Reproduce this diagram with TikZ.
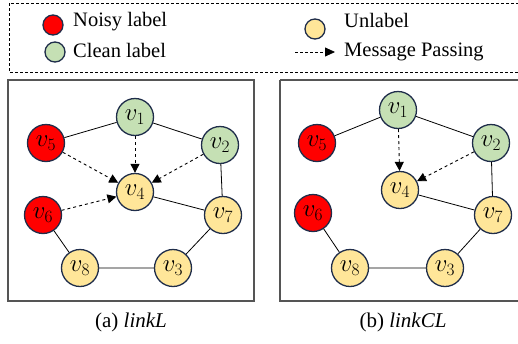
\documentclass[tikz,border=0pt]{standalone}
\usepackage{fontspec}
\setmainfont{Liberation Serif}
\usetikzlibrary{arrows.meta}
\definecolor{nred}{HTML}{FF0000}
\definecolor{ngreen}{HTML}{C5E0B4}
\definecolor{nyellow}{HTML}{FFE699}
\definecolor{nborder}{HTML}{1F2D4A}
\definecolor{boxgray}{HTML}{555555}
\begin{document}
\begin{tikzpicture}[x=1pt,y=-1pt,
  vnode/.style={circle,draw=nborder,line width=1.3pt,minimum size=37pt,inner sep=0pt,font=\fontsize{23}{25}\selectfont},
  noisy/.style={vnode,fill=nred},
  clean/.style={vnode,fill=ngreen},
  unl/.style={vnode,fill=nyellow},
  lnode/.style={circle,draw=nborder,line width=1.3pt,minimum size=20pt,inner sep=0pt},
  lnk/.style={draw=black,line width=0.8pt},
  msg/.style={draw=black,line width=0.9pt,dashed,-{Triangle[length=9pt,width=9pt]}},
  lbl/.style={font=\fontsize{20.5}{22}\selectfont,anchor=west,inner sep=0pt},
  captxt/.style={font=\fontsize{21}{24}\selectfont,inner sep=0pt},
  panel/.style={draw=boxgray,line width=1.2pt}]
\useasboundingbox (0,0) rectangle (518,343);
% legend
\draw[line width=0.8pt,dash pattern=on 3pt off 2pt] (9,3) rectangle (530,72);
\node[lnode,fill=nred] (ln) at (53,25) {};
\node[lbl] (lnt) at (73,22) {Noisy label};
\node[lnode,fill=ngreen] (lc) at (55,52) {};
\node[lbl] (lct) at (73,50) {Clean label};
\node[lnode,fill=nyellow] (lu) at (315,29) {};
\node[lbl] (lut) at (344,20) {Unlabel};
\coordinate (ma) at (295,52);
\coordinate (mb) at (335,52);
\node[lbl] (lmt) at (344,52) {Message Passing};
\draw[draw=black,line width=0.8pt,dash pattern=on 3pt off 2pt,-{Triangle[length=10pt,width=9pt]}] (ma) -- (mb);
% panel a
\draw[panel] (8,80) rectangle (254,301);
\node[clean] (a1) at (135,117) {$v_1$};
\node[noisy] (a5) at (46,143) {$v_5$};
\node[clean] (a2) at (220,145) {$v_2$};
\node[unl] (a4) at (135,192) {$v_4$};
\node[noisy] (a6) at (43,215) {$v_6$};
\node[unl] (a7) at (223,215) {$v_7$};
\node[unl] (a8) at (80,268) {$v_8$};
\node[unl] (a3) at (173,268) {$v_3$};
\draw[lnk] (a1)--(a5) (a1)--(a2) (a2)--(a7) (a4)--(a7) (a7)--(a3) (a3)--(a8) (a8)--(a6);
\draw[msg] (a1)--(a4);
\draw[msg] (a5)--(a4);
\draw[msg] (a2)--(a4);
\draw[msg] (a6)--(a4);
% panel b
\draw[panel] (280,80) -- (530,80) (280,80) -- (280,301) -- (530,301);
\node[clean] (b1) at (398,110) {$v_1$};
\node[noisy] (b5) at (317,143) {$v_5$};
\node[clean] (b2) at (491,143) {$v_2$};
\node[unl] (b4) at (400,190) {$v_4$};
\node[noisy] (b6) at (313,213) {$v_6$};
\node[unl] (b7) at (493,215) {$v_7$};
\node[unl] (b8) at (350,268) {$v_8$};
\node[unl] (b3) at (445,268) {$v_3$};
\draw[lnk] (b1)--(b5) (b1)--(b2) (b2)--(b7) (b4)--(b7) (b7)--(b3) (b3)--(b8) (b8)--(b6);
\draw[msg] (b1)--(b4);
\draw[msg] (b2)--(b4);
% captions
\node[captxt] (ca) at (131,322) {(a) \textit{linkL}};
\node[captxt] (cb) at (403,322) {(b) \textit{linkCL}};
\end{tikzpicture}
\end{document}
